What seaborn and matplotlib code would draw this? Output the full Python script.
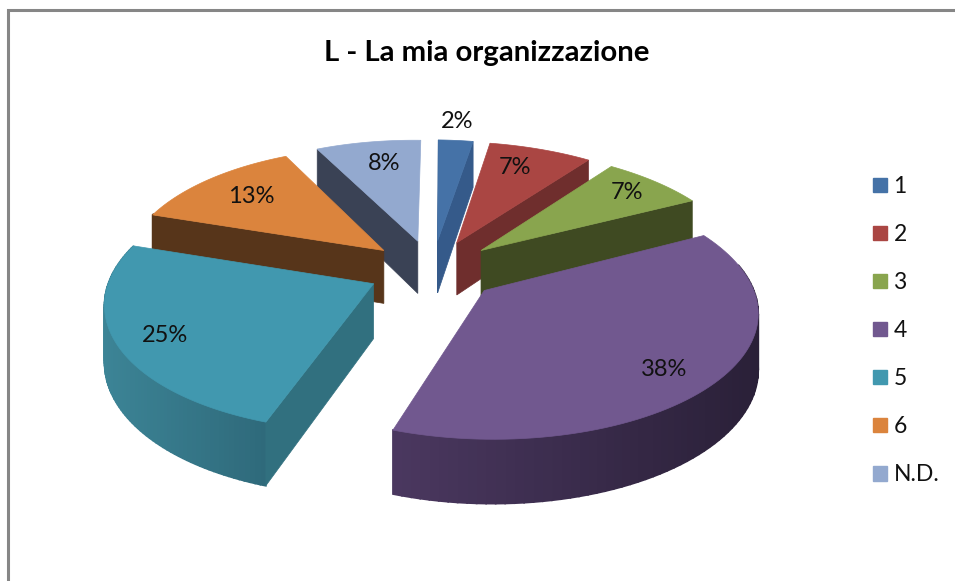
import matplotlib
matplotlib.use('Agg')
import matplotlib.pyplot as plt
from matplotlib.patches import Patch, Polygon
import seaborn as sns
import numpy as np

TITLE = "L - La mia organizzazione"
categories = ['1', '2', '3', '4', '5', '6', 'N.D.']
values = [2.5, 7.4, 7.4, 38.4, 24.6, 12.6, 7.6]

top_colors = ['#4572a7', '#aa4643', '#89a54e', '#71588f', '#4198af', '#db843d', '#93a9cf']
cut_colors = ['#355a8a', '#6f2e2d', '#3f4a22', '#3a2b4c', '#31707f', '#57351a', '#3a4255']
wall_left = ['#355a8a', '#6f2e2d', '#3f4a22', '#4b3860', '#3c8496', '#57351a', '#3a4255']
wall_right = ['#355a8a', '#6f2e2d', '#3f4a22', '#2a2038', '#2f6a7b', '#57351a', '#3a4255']

# 3d look: projection of a flat disc, all in figure pixels
CX, CY = 433, 270
RX, RY = 262, 122
PERSP = 0.14
SHEAR = 14
ROLL = 8
BOW = 3.2
EXPLODE = 0.25
DEPTH = 54
ROTATION = np.radians(-3.4)
LABEL_R = [1.47, 1.02, 1.08, 1.07, 1.08, 0.99, 1.01]
LABEL_TURN = np.radians([-0.5, -2, 0, 2.5, -1, 0, 1.5])
DRAW_ORDER = [6, 0, 1, 5, 2, 4, 3]

sns.set_theme(style="white")
plt.rcParams['font.family'] = ['Lato', 'DejaVu Sans']


def project(x, d, low=False):
    w = 1 + PERSP * d
    sx = CX + RX * x / w + SHEAR * d + BOW * x * x
    sy = CY - RY * d / w + ROLL * x
    if low:
        sy = sy + DEPTH / w
    return sx, sy


def draw_slice(ax, i, start, end):
    mid = (start + end) / 2
    ox, od = EXPLODE * np.sin(mid), EXPLODE * np.cos(mid)
    th = np.linspace(start, end, 80)
    xs, ds = ox + np.sin(th), od + np.cos(th)

    # outer wall, split in strips for the shading
    sx_top, sy_top = project(xs, ds)
    sx_low, sy_low = project(xs, ds, low=True)
    c0 = np.array(matplotlib.colors.to_rgb(wall_left[i]))
    c1 = np.array(matplotlib.colors.to_rgb(wall_right[i]))
    span = max(sx_top.max() - sx_top.min(), 1)
    for k in range(len(th) - 1):
        if np.cos(th[k]) > 0.25 and np.cos(th[k + 1]) > 0.25:
            continue
        t = (sx_top[k] - sx_top.min()) / span
        col = c0 + (c1 - c0) * t
        quad = [(sx_top[k], sy_top[k]), (sx_top[k + 1], sy_top[k + 1]),
                (sx_low[k + 1], sy_low[k + 1]), (sx_low[k], sy_low[k])]
        ax.add_patch(Polygon(quad, closed=True, fc=col, ec=col, lw=1.2))

    # cut faces that look at the viewer
    ax_top = project(ox, od)
    ax_low = project(ox, od, low=True)
    if np.sin(end) > 0:
        edge = [ax_top, (sx_top[-1], sy_top[-1]), (sx_low[-1], sy_low[-1]), ax_low]
        ax.add_patch(Polygon(edge, closed=True, fc=cut_colors[i], ec=cut_colors[i], lw=0.5))
    if np.sin(start) < 0:
        edge = [ax_top, (sx_top[0], sy_top[0]), (sx_low[0], sy_low[0]), ax_low]
        ax.add_patch(Polygon(edge, closed=True, fc=cut_colors[i], ec=cut_colors[i], lw=0.5))

    face = [ax_top] + list(zip(sx_top, sy_top))
    ax.add_patch(Polygon(face, closed=True, fc=top_colors[i], ec=top_colors[i], lw=0.5))


fig = plt.figure(figsize=(9.55, 5.81), dpi=100)
ax = fig.add_axes([0, 0, 1, 1])
ax.set_xlim(0, 955)
ax.set_ylim(581, 0)
ax.axis('off')

# chart frame, only top and left are in the crop
ax.plot([7.5, 7.5, 955], [581, 10, 10], color='#868686', lw=2.2, solid_joinstyle='miter')

shares = np.array(values) / sum(values)
edges = np.concatenate([[0], np.cumsum(shares)]) * 2 * np.pi + ROTATION

for i in DRAW_ORDER:
    draw_slice(ax, i, edges[i], edges[i + 1])

for i, v in enumerate(values):
    mid = (edges[i] + edges[i + 1]) / 2 + LABEL_TURN[i]
    lx, ly = project(LABEL_R[i] * np.sin(mid), LABEL_R[i] * np.cos(mid))
    ax.text(lx, ly, f"{round(v)}%", ha='center', va='center', fontsize=17, color='#111111')

ax.text(487, 53, TITLE, ha='center', va='center', fontsize=21.2, fontweight='bold', color='black')

handles = [Patch(fc=c, ec=c) for c in top_colors]
ax.legend(handles, categories, loc='upper left', bbox_to_anchor=(873 / 955, 1 - 176 / 581),
          bbox_transform=fig.transFigure, frameon=False, fontsize=16.5,
          handlelength=0.61, handleheight=0.61, handletextpad=0.28,
          labelspacing=1.18, borderpad=0, borderaxespad=0, labelcolor='#111111')

plt.savefig('out.png', dpi=100)
plt.close()
